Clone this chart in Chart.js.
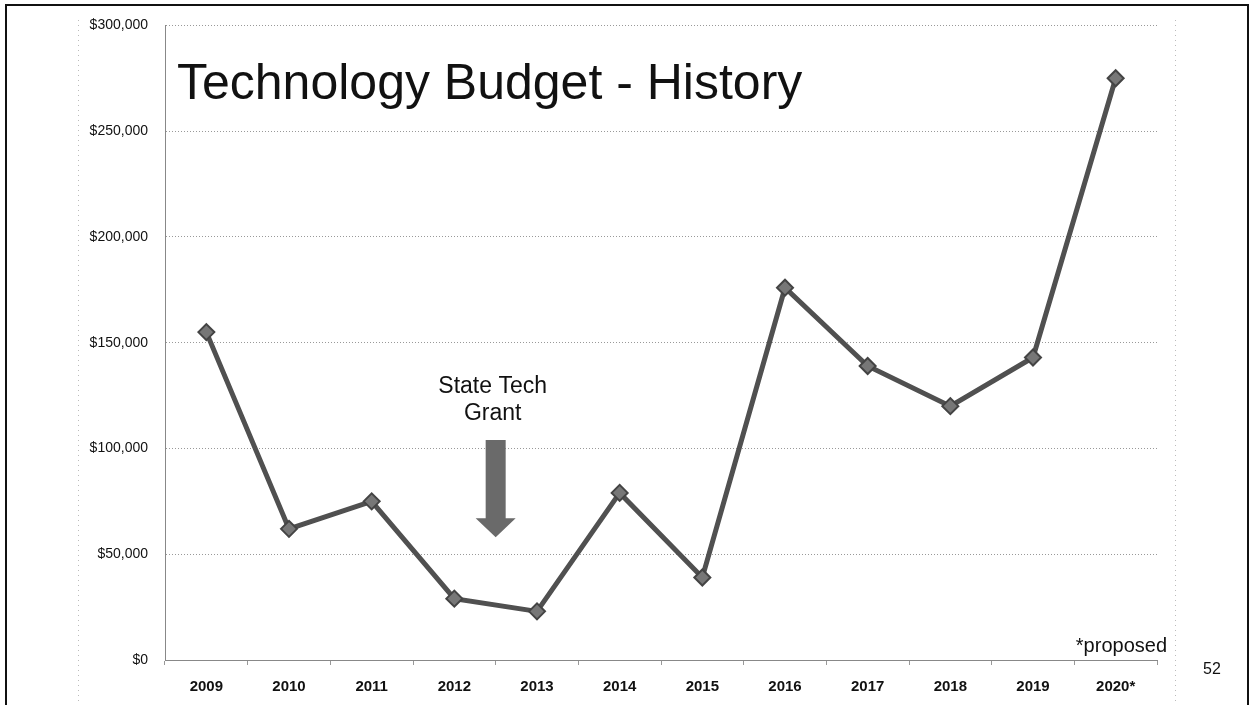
<!DOCTYPE html>
<html>
<head>
<meta charset="utf-8">
<title>Technology Budget - History</title>
<script src="https://cdn.jsdelivr.net/npm/chart.js@4.4.1/dist/chart.umd.min.js"></script>
<style>
  html, body { margin: 0; padding: 0; background: #fff; }
  #wrap { width: 1251px; height: 705px; position: relative; }
</style>
</head>
<body>
<div id="wrap"><canvas id="budgetChart" width="1251" height="705"></canvas></div>
<script>
// Chart data
const years = ['2009', '2010', '2011', '2012', '2013', '2014', '2015', '2016', '2017', '2018', '2019', '2020*'];
const budget = [155000, 62000, 75000, 29000, 23000, 79000, 39000, 176000, 139000, 120000, 143000, 275000];
const yTicks = [0, 50000, 100000, 150000, 200000, 250000, 300000];

const titleText = 'Technology Budget - History';
const grantLines = ['State Tech', 'Grant'];
const noteText = '*proposed';
const pageNumber = '52';

// Draws the slide frame, title and notes
const slideDecor = {
    id: 'slideDecor',
    beforeDraw(chart) {
        const ctx = chart.ctx;
        ctx.save();
        ctx.fillStyle = '#fff';
        ctx.fillRect(0, 0, chart.width, chart.height);
        // outer frame
        ctx.strokeStyle = '#111';
        ctx.lineWidth = 2;
        ctx.beginPath();
        ctx.moveTo(6, 720);
        ctx.lineTo(6, 5);
        ctx.lineTo(1248, 5);
        ctx.lineTo(1248, 720);
        ctx.stroke();
        // faint dotted guides
        ctx.strokeStyle = '#bbb';
        ctx.lineWidth = 1;
        ctx.setLineDash([1, 4]);
        ctx.beginPath();
        ctx.moveTo(78.5, 20); ctx.lineTo(78.5, 705);
        ctx.moveTo(1175.5, 20); ctx.lineTo(1175.5, 705);
        ctx.stroke();
        ctx.restore();
    },
    afterDraw(chart) {
        const ctx = chart.ctx;
        const x = chart.scales.x;
        const y = chart.scales.y;
        const area = chart.chartArea;
        ctx.save();
        ctx.fillStyle = '#111';
        ctx.textBaseline = 'alphabetic';
        ctx.font = '50px "Liberation Sans", Arial, sans-serif';
        ctx.textAlign = 'left';
        ctx.fillText(titleText, area.left + 12, 99);

        // grant note + arrow, placed between 2012 and 2013
        const gx = x.getPixelForValue(3.5);
        ctx.font = '23px "Liberation Sans", Arial, sans-serif';
        ctx.textAlign = 'center';
        ctx.fillText(grantLines[0], gx - 3, 393);
        ctx.fillText(grantLines[1], gx - 3, 420);

        const top = y.getPixelForValue(104000);
        const neck = y.getPixelForValue(67000);
        const tip = y.getPixelForValue(58000);
        ctx.fillStyle = '#6a6a6a';
        ctx.beginPath();
        ctx.moveTo(gx - 10, top);
        ctx.lineTo(gx + 10, top);
        ctx.lineTo(gx + 10, neck);
        ctx.lineTo(gx + 20, neck);
        ctx.lineTo(gx, tip);
        ctx.lineTo(gx - 20, neck);
        ctx.lineTo(gx - 10, neck);
        ctx.closePath();
        ctx.fill();

        ctx.fillStyle = '#111';
        ctx.font = '20px "Liberation Sans", Arial, sans-serif';
        ctx.textAlign = 'right';
        ctx.fillText(noteText, area.right + 10, area.bottom - 8);
        ctx.font = '16px "Liberation Sans", Arial, sans-serif';
        ctx.textAlign = 'center';
        ctx.fillText(pageNumber, 1212, 674);
        ctx.restore();
    }
};

const ctx = document.getElementById('budgetChart').getContext('2d');
new Chart(ctx, {
    type: 'line',
    data: {
        labels: years,
        datasets: [{
            data: budget,
            borderColor: '#505050',
            borderWidth: 5,
            pointStyle: 'rectRot',
            pointRadius: 8,
            pointBackgroundColor: '#777',
            pointBorderColor: '#444',
            pointBorderWidth: 2,
            tension: 0
        }]
    },
    options: {
        responsive: false,
        animation: false,
        layout: { padding: { left: 85, right: 94, top: 24, bottom: 0 } },
        plugins: { legend: { display: false }, tooltip: { enabled: false } },
        scales: {
            x: {
                offset: true,
                afterFit: s => { s.height = 45; },
                grid: { drawOnChartArea: false, tickLength: 5, color: '#999', offset: true },
                border: { color: '#888', dash: [1, 2] },
                ticks: {
                    color: '#111',
                    padding: 13,
                    font: { family: '"Liberation Sans", Arial, sans-serif', size: 15, weight: 'bold' }
                }
            },
            y: {
                min: 0,
                max: 300000,
                afterFit: s => { s.width = 80; },
                afterBuildTicks: s => { s.ticks = yTicks.map(v => ({ value: v })); },
                grid: { color: '#999', lineWidth: 1, drawTicks: false },
                border: { color: '#888', dash: [1, 2] },
                ticks: {
                    color: '#111',
                    padding: 17,
                    font: { family: '"Liberation Sans", Arial, sans-serif', size: 14 },
                    callback: v => '$' + Number(v).toLocaleString('en-US')
                }
            }
        }
    },
    plugins: [slideDecor]
});
</script>
</body>
</html>
